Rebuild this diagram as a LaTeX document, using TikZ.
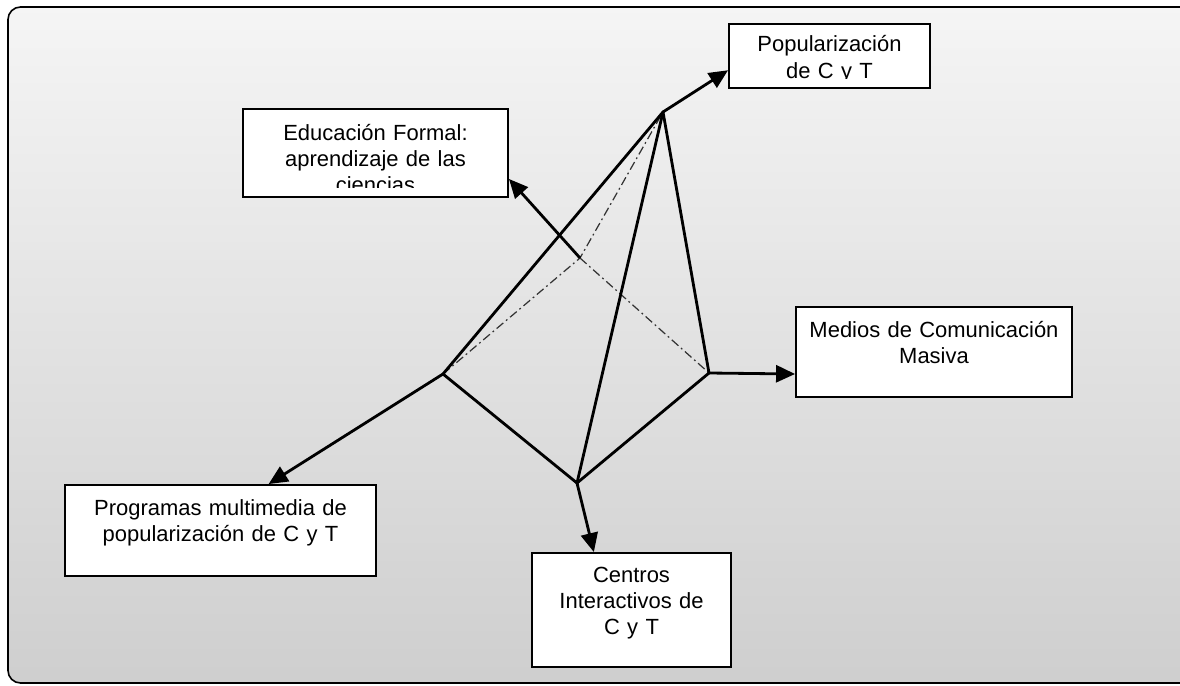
\documentclass[tikz,border=0pt]{standalone}
\usepackage{fontspec}
\setmainfont{Liberation Sans}
\usetikzlibrary{arrows.meta}

\begin{document}
\begin{tikzpicture}[x=0.02cm, y=-0.02cm,
    box/.style={draw, fill=white, line width=1.1pt, inner xsep=0pt, inner ysep=0pt,
        align=center, font=\fontsize{12.5}{14.8}\selectfont},
    side/.style={line width=1.6pt, line cap=round},
    hidden/.style={line width=0.7pt, black!80, dash pattern=on 5pt off 2pt on 1pt off 2pt},
    arr/.style={line width=1.6pt, -{Triangle[length=0.38cm, width=0.34cm]}}]

    % Background and frame
    \useasboundingbox (0,0) rectangle (1180,686);
    \path[draw, line width=0.9pt, top color=gray!8, bottom color=gray!38, rounded corners=0.25cm]
        (1190,7) -- (8,7) -- (8,683) -- (1190,683);

    % Define vertices
    \coordinate (T) at (663,112);
    \coordinate (L) at (443,374);
    \coordinate (R) at (709,373);
    \coordinate (B) at (577,483);
    \coordinate (H) at (580,258);

    % Draw edges of the pyramid
    \draw[hidden] (L) -- (H) -- (T);
    \draw[hidden] (H) -- (R);
    \draw[side] (L) -- (T);
    \draw[side] (B) -- (T);
    \draw[side] (R) -- (T);
    \draw[side] (L) -- (B);
    \draw[side] (B) -- (R);

    % Define boxes
    \node[box, text width=4.02cm, text height=0.56cm, text depth=0.72cm] (pop) at (829.5,56) {Popularización\\de C y T};
    \node[box, text width=5.3cm, text height=0.62cm, text depth=1.14cm] (edu) at (375.5,153) {Educación Formal:\\aprendizaje de las\\ciencias};
    \node[box, text width=5.52cm, text height=0.6cm, text depth=1.2cm] (med) at (934,352) {Medios de Comunicación\\Masiva};
    \node[box, text width=6.22cm, text height=0.6cm, text depth=1.22cm] (prog) at (220.5,530.5) {Programas multimedia de\\popularización de C y T};
    \node[box, text width=3.98cm, text height=0.58cm, text depth=1.7cm] (cen) at (631.5,610) {Centros\\Interactivos de\\C y T};

    % Text cut at the lower margin
    \fill[white] ([shift={(1.2pt,1.2pt)}]pop.south west) rectangle ([shift={(-1.2pt,0.2cm)}]pop.south east);
    \fill[white] ([shift={(1.2pt,1.2pt)}]edu.south west) rectangle ([shift={(-1.2pt,0.2cm)}]edu.south east);

    % Draw arrows to the boxes
    \draw[arr] (T) -- (pop.188);
    \draw[arr] (H) -- (edu.349);
    \draw[arr] (R) -- (med.189);
    \draw[arr] (L) -- (prog.44);
    \draw[arr] (B) -- (cen.123);
\end{tikzpicture}
\end{document}
